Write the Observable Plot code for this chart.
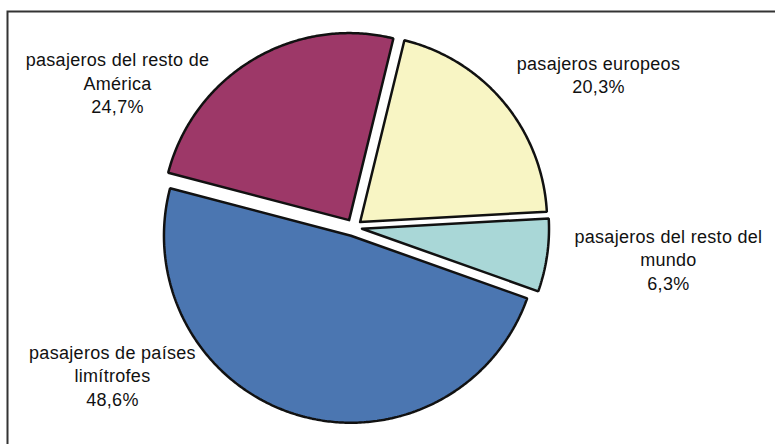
<!DOCTYPE html>
<html>
<head>
<meta charset="utf-8">
<script src="https://cdn.jsdelivr.net/npm/d3@7"></script>
<script src="https://cdn.jsdelivr.net/npm/@observablehq/plot@0.6"></script>
<style>
  html, body { margin: 0; padding: 0; background: #fff; }
  #chart svg text { letter-spacing: 0.3px; }
</style>
</head>
<body>
<div id="chart"></div>
<script>
// ---- data ----
const names = [
  "pasajeros europeos",
  "pasajeros del resto del mundo",
  "pasajeros de países limítrofes",
  "pasajeros del resto de América"
];
const shares = [20.3, 6.3, 48.6, 24.7];
const labelLines = [
  ["pasajeros europeos"],
  ["pasajeros del resto del", "mundo"],
  ["pasajeros de países", "limítrofes"],
  ["pasajeros del resto de", "América"]
];
// ---- styling / layout (not data) ----
const colors = ["#f8f5c4", "#a9d7d7", "#4b76b1", "#9d3868"];
const labelAt = [[1.310, 0.822], [1.684, -0.167], [-1.289, -0.787], [-1.262, 0.777]];
const startDeg = 13.7;
const explode = 0.046;

const W = 775, H = 444, R = 187, CX = 353, CY = 227;

const pie = d3.pie().sort(null).value(d => d.share)
  .startAngle(startDeg * Math.PI / 180)
  .endAngle(startDeg * Math.PI / 180 + 2 * Math.PI);
const slices = pie(names.map((name, i) => ({name, share: shares[i]})));

const pts = [];
for (const s of slices) {
  const mid = (s.startAngle + s.endAngle) / 2;
  const ox = explode * Math.sin(mid), oy = explode * Math.cos(mid);
  pts.push({name: s.data.name, x: ox, y: oy});
  const n = Math.max(8, Math.ceil((s.endAngle - s.startAngle) / 0.01));
  for (let k = 0; k <= n; k++) {
    const a = s.startAngle + (s.endAngle - s.startAngle) * k / n;
    pts.push({name: s.data.name, x: ox + Math.sin(a), y: oy + Math.cos(a)});
  }
  pts.push({name: s.data.name, x: ox, y: oy});
}

const fmt = v => v.toFixed(1).replace(".", ",") + "%";
const labels = names.map((name, i) => ({
  name,
  text: [...labelLines[i], fmt(shares[i])].join("\n"),
  x: labelAt[i][0],
  y: labelAt[i][1]
}));

const chart = Plot.plot({
  width: W,
  height: H,
  margin: 0,
  style: {fontFamily: "'Liberation Sans', Arial, sans-serif", fontSize: "18px", background: "#fff", overflow: "visible"},
  x: {domain: [-CX / R, (W - CX) / R], axis: null},
  y: {domain: [(CY - H) / R, CY / R], axis: null},
  color: {domain: names, range: colors},
  marks: [
    Plot.frame({stroke: "#333", strokeWidth: 2, insetLeft: 7, insetTop: 11, insetRight: -10, insetBottom: -10}),
    Plot.line(pts, {x: "x", y: "y", z: "name", fill: "name", stroke: "#111", strokeWidth: 2.5, strokeLinejoin: "miter", curve: "linear"}),
    Plot.text(labels, {x: "x", y: "y", text: "text", fill: "#111", fontSize: 18, lineHeight: 1.3, lineAnchor: "middle", textAnchor: "middle"})
  ]
});
document.getElementById("chart").appendChild(chart);
</script>
</body>
</html>
